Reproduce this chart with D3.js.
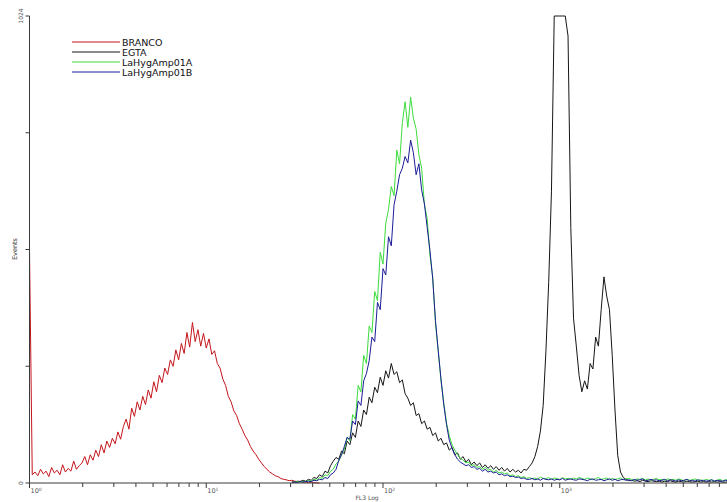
<!DOCTYPE html>
<html>
<head>
<meta charset="utf-8">
<script src="https://cdn.jsdelivr.net/npm/d3@7/dist/d3.min.js"></script>
<style>
  html, body { margin: 0; padding: 0; background: #fff; }
  svg { display: block; }
</style>
</head>
<body>
<svg id="chart" width="727" height="502"></svg>
<script>
// ---------------- DATA ----------------
// histogram of 1024 log channels (4 decades); values sampled every 4 channels
const seriesNames = ["BRANCO", "EGTA", "LaHygAmp01A", "LaHygAmp01B"];
const seriesColors = ["#c4161c", "#151515", "#3cdc3c", "#1c1c96"];
const channelStep = 4;           // channels per sample
const totalChannels = 1024;
const yMax = 1024;

// first sample index of each series (in samples of channelStep channels)
const brancoStart = 0;
const egtaStart = 95;
const ampAStart = 95;
const ampBStart = 95;

const brancoCounts = [
  512, 18, 24, 16, 30, 20, 26, 14, 34, 22, 28, 18, 40, 24, 32, 26, 48, 30, 38, 44,
  58, 40, 62, 50, 72, 58, 84, 66, 92, 78, 98, 86, 112, 96, 124, 140, 118, 164, 146, 178,
  160, 190, 172, 204, 186, 222, 200, 236, 220, 252, 238, 270, 256, 292, 270, 306, 284, 330, 298, 352,
  310, 336, 300, 328, 296, 316, 282, 290, 262, 252, 228, 214, 190, 178, 158, 148, 130, 118, 104, 94,
  80, 70, 62, 52, 44, 36, 30, 24, 20, 16, 14, 10, 8, 7, 5, 6, 4, 3, 4, 2,
  2, 1, 2, 1, 0, 0
];

const egtaCounts = [
  3, 2, 4, 3, 6, 4, 8, 6, 12, 10, 18, 14, 26, 22, 38, 48, 56, 52, 70, 64,
  92, 84, 110, 100, 136, 124, 160, 150, 188, 176, 210, 198, 232, 214, 246, 230, 262, 238, 244, 220,
  226, 196, 186, 170, 176, 148, 152, 130, 136, 118, 122, 104, 110, 92, 98, 84, 88, 72, 78, 62,
  66, 52, 58, 46, 52, 40, 46, 38, 44, 34, 40, 32, 38, 30, 36, 28, 34, 26, 32, 24,
  30, 24, 28, 22, 30, 28, 36, 44, 58, 80, 114, 170, 290, 440, 640, 1024, 1024, 1024, 1024, 1024,
  980, 560, 360, 300, 236, 200, 224, 206, 262, 250, 320, 300, 380, 452, 410, 380, 280, 160, 60, 24,
  12, 8, 5, 6, 4, 5, 3, 6, 4, 3, 5, 4, 3, 4, 2, 4, 3, 5, 3, 2,
  4, 3, 2, 4, 3, 2, 3, 4, 2, 3, 2, 3, 2, 3, 2, 3, 2, 2, 3, 2, 2
];

const ampACounts = [
  2, 1, 3, 2, 4, 3, 6, 4, 8, 6, 12, 10, 18, 16, 26, 30, 42, 48, 62, 74,
  100, 92, 150, 140, 214, 200, 280, 262, 344, 330, 420, 400, 506, 480, 570, 600, 650, 630, 730, 700,
  790, 836, 780, 846, 800, 776, 720, 690, 610, 580, 500, 452, 350, 290, 224, 176, 132, 104, 84, 72,
  62, 54, 50, 44, 46, 38, 40, 34, 36, 30, 34, 28, 30, 24, 28, 22, 24, 20, 22, 16,
  18, 14, 16, 12, 14, 10,
  12, 9, 11, 8, 13, 10, 9, 12, 8, 11, 10, 7, 12, 9, 10, 8, 11, 9, 12, 10,
  8, 11, 9, 7, 10, 12, 8, 9, 11, 7, 10, 8, 9, 11, 7, 9, 10, 8, 6, 9,
  8, 10, 7, 9, 6, 8, 10, 7, 8, 6, 9, 7, 8, 6, 9, 7, 5, 8, 6, 7,
  9, 6, 7, 5, 8, 6, 7, 5, 6, 8, 5, 7, 6, 5, 7
];

const ampBCounts = [
  1, 2, 1, 3, 2, 3, 4, 3, 6, 5, 8, 7, 12, 10, 18, 22, 30, 50, 62, 80,
  100, 96, 136, 128, 180, 170, 224, 240, 268, 320, 310, 396, 380, 470, 456, 540, 520, 610, 640, 676,
  690, 716, 702, 752, 724, 676, 700, 642, 612, 560, 510, 448, 356, 290, 228, 172, 128, 94, 76, 62,
  52, 46, 42, 38, 40, 34, 36, 30, 32, 26, 30, 24, 26, 22, 24, 18, 20, 16, 18, 14,
  15, 12, 13, 10, 11, 8,
  8, 10, 7, 9, 6, 10, 8, 7, 9, 6, 8, 7, 10, 6, 8, 9, 7, 6, 9, 8,
  7, 5, 8, 9, 6, 7, 8, 5, 7, 9, 6, 8, 5, 7, 8, 6, 7, 5, 8, 6,
  7, 9, 5, 6, 8, 6, 7, 5, 6, 8, 5, 7, 6, 4, 7, 5, 6, 8, 5, 6,
  4, 7, 5, 6, 4, 5, 7, 4, 6, 5, 4, 6, 5, 4, 5
];

const xTickDecades = [1, 10, 100, 1000, 10000];
const xTickExponents = ["0", "1", "2", "3", "4"];
const yTickValues = [0, 256, 512, 768, 1024];
const yTickLabels = ["0", "", "", "", "1024"];
const xAxisTitle = "FL3 Log";
const yAxisTitle = "Events";

// ---------------- DRAW ----------------
(function draw() {
const svg = d3.select("#chart");
const mLeft = 29.5, mBottom = 483, mTop = 16;
const decadePx = 176.75;
const mRight = mLeft + 4 * decadePx;
const svgWidth = 727;

const xLog = d3.scaleLog().domain([1, 10000]).range([mLeft, mRight]);
const xCh = d3.scaleLinear().domain([0, totalChannels]).range([mLeft, mRight]);
const y = d3.scaleLinear().domain([0, yMax]).range([mBottom, mTop]);

const axisColor = "#3a3a3a";
const labelColor = "#555";

const allSeries = [
  { start: brancoStart, counts: brancoCounts },
  { start: egtaStart, counts: egtaCounts },
  { start: ampAStart, counts: ampACounts },
  { start: ampBStart, counts: ampBCounts }
];

const line = d3.line()
  .x(d => xCh(d.ch))
  .y(d => y(Math.min(d.v, yMax)));

const plot = svg.append("g");
allSeries.forEach((s, k) => {
  const pts = s.counts.map((v, j) => ({ ch: (s.start + j) * channelStep, v }));
  plot.append("path")
    .datum(pts)
    .attr("fill", "none")
    .attr("stroke", seriesColors[k])
    .attr("stroke-width", 1)
    .attr("stroke-linejoin", "round")
    .attr("d", line);
});

// x axis
const xAxisG = svg.append("g");
xAxisG.append("line")
  .attr("x1", mLeft).attr("x2", svgWidth).attr("y1", mBottom).attr("y2", mBottom)
  .attr("stroke", axisColor).attr("stroke-width", 1);

const minorTicks = xLog.ticks().filter(v => v >= 1 && v < 10000);
xAxisG.selectAll("line.tick").data(minorTicks).enter().append("line")
  .attr("class", "tick")
  .attr("x1", d => xLog(d)).attr("x2", d => xLog(d))
  .attr("y1", mBottom).attr("y2", d => mBottom + (xTickDecades.includes(d) ? 5 : 4))
  .attr("stroke", axisColor).attr("stroke-width", 1);

xTickDecades.forEach((d, k) => {
  if (xLog(d) > svgWidth - 10) return;   // 10^4 lies outside the visible area
  const t = xAxisG.append("text")
    .attr("x", xLog(d) + 1).attr("y", mBottom + 10)
    .attr("font-family", "DejaVu Sans, sans-serif")
    .attr("font-size", 6.5)
    .attr("fill", labelColor);
  t.append("tspan").text("10");
  t.append("tspan").attr("font-size", 4.5).attr("dy", -2.5).text(xTickExponents[k]);
});

svg.append("text")
  .attr("x", 367).attr("y", 500)
  .attr("text-anchor", "middle")
  .attr("font-family", "DejaVu Sans, sans-serif")
  .attr("font-size", 6)
  .attr("fill", labelColor)
  .text(xAxisTitle);

// y axis
const yAxisG = svg.append("g");
yAxisG.append("line")
  .attr("x1", mLeft).attr("x2", mLeft).attr("y1", mTop).attr("y2", mBottom)
  .attr("stroke", axisColor).attr("stroke-width", 1);
yAxisG.selectAll("line.ytick").data(yTickValues).enter().append("line")
  .attr("class", "ytick")
  .attr("x1", mLeft - 4).attr("x2", mLeft)
  .attr("y1", d => y(d)).attr("y2", d => y(d))
  .attr("stroke", axisColor).attr("stroke-width", 1);
yTickValues.forEach((d, k) => {
  if (!yTickLabels[k]) return;
  svg.append("text")
    .attr("transform", `translate(23,${y(d)}) rotate(-90)`)
    .attr("text-anchor", "middle")
    .attr("font-family", "DejaVu Sans, sans-serif")
    .attr("font-size", 6)
    .attr("fill", labelColor)
    .text(yTickLabels[k]);
});
svg.append("text")
  .attr("transform", `translate(17,249) rotate(-90)`)
  .attr("text-anchor", "middle")
  .attr("font-family", "DejaVu Sans, sans-serif")
  .attr("font-size", 6.5)
  .attr("fill", "#333")
  .text(yAxisTitle);

// legend
const legend = svg.append("g");
seriesNames.forEach((name, k) => {
  const ly = 42 + k * 10;
  legend.append("line")
    .attr("x1", 72).attr("x2", 120).attr("y1", ly).attr("y2", ly)
    .attr("stroke", seriesColors[k]).attr("stroke-width", 1);
  legend.append("text")
    .attr("x", 122).attr("y", ly + 3.5)
    .attr("font-family", "DejaVu Sans, sans-serif")
    .attr("font-size", 9.5)
    .attr("fill", "#111")
    .text(name);
});
})();
</script>
</body>
</html>
